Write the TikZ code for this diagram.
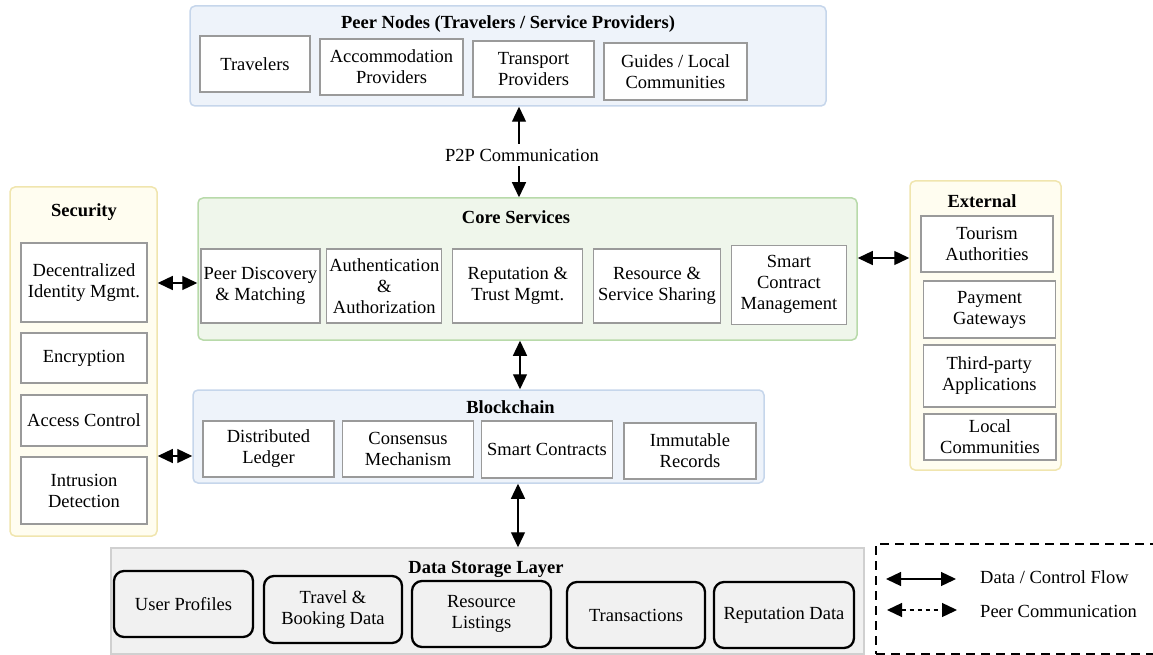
\documentclass[tikz,border=0pt]{standalone}
\usepackage{fontspec}
\setmainfont{Liberation Serif}
\usetikzlibrary{arrows.meta}
\definecolor{bluefill}{HTML}{EEF3FA}
\definecolor{bluebd}{HTML}{C6D6EB}
\definecolor{greenfill}{HTML}{EFF6EB}
\definecolor{greenbd}{HTML}{B8DAAA}
\definecolor{yelfill}{HTML}{FFFDF0}
\definecolor{yelbd}{HTML}{F0E5AE}
\definecolor{grayfill}{HTML}{F1F1F1}
\definecolor{graybd}{HTML}{D0D0D0}
\definecolor{boxgray}{HTML}{9A9A9A}
\newcommand\mybox[6]{\node[#1, minimum width=#4pt, minimum height=#5pt] (#2) at (#3) {#6};}
\begin{document}
\begin{tikzpicture}[x=1pt,y=-1pt,
  font=\rmfamily\fontsize{18.5}{21}\selectfont,
  cont/.style={draw, rounded corners=5pt, line width=1.5pt, inner sep=0pt},
  ibox/.style={draw=boxgray, fill=white, line width=1.3pt, align=center, inner sep=0pt},
  sbox/.style={draw=black, fill=grayfill, line width=2.3pt, rounded corners=10pt, align=center, inner sep=0pt},
  ttl/.style={font=\rmfamily\fontsize{18.5}{21}\selectfont\bfseries, inner sep=0pt},
  biarrow/.style={{Triangle[length=15pt,width=14pt]}-{Triangle[length=15pt,width=14pt]}, line width=1.3pt},
  onearrow/.style={-{Triangle[length=15pt,width=14pt]}, line width=1.3pt},
]
\useasboundingbox (0,0) rectangle (1153,655);
\clip (0,0) rectangle (1153,655);

% ---------- Peer nodes ----------
\node[cont, draw=bluebd, fill=bluefill, minimum width=636pt, minimum height=100pt] (peer) at (508,56) {};
\node[ttl] (peertitle) at (508,24) {Peer Nodes (Travelers / Service Providers)};
\mybox{ibox}{trav}{255,64}{110}{56}{Travelers}
\mybox{ibox}{acc}{391.5,67}{143}{56}{Accommodation\\Providers}
\mybox{ibox}{trans}{533.5,69}{121}{56}{Transport\\Providers}
\mybox{ibox}{guides}{675.5,71.5}{143}{57}{Guides / Local\\Communities}

% ---------- Core services ----------
\node[cont, draw=greenbd, fill=greenfill, minimum width=659pt, minimum height=142pt] (core) at (527.5,269) {};
\node[ttl] (coretitle) at (516,217) {Core Services};
\mybox{ibox}{pd}{260.4,286}{119}{74}{Peer Discovery\\\& Matching}
\mybox{ibox}{auth}{384.3,286}{115}{74}{Authentication\\\&\\Authorization}
\mybox{ibox}{rep}{517.8,286}{130}{74}{Reputation \&\\Trust Mgmt.}
\mybox{ibox}{res}{657,286}{127}{74}{Resource \&\\Service Sharing}
\mybox{ibox}{scm}{789,284.7}{115}{79}{Smart\\Contract\\Management}

% ---------- Security ----------
\node[cont, draw=yelbd, fill=yelfill, minimum width=147pt, minimum height=349pt] (sec) at (83.5,361.5) {};
\node[ttl] (sectitle) at (84,212) {Security};
\mybox{ibox}{dec}{84,282.5}{126}{79}{Decentralized\\Identity Mgmt.}
\mybox{ibox}{enc}{84,358}{126}{50}{Encryption}
\mybox{ibox}{acl}{84,420.5}{126}{51}{Access Control}
\mybox{ibox}{ids}{84,490.5}{126}{67}{Intrusion\\Detection}

% ---------- External ----------
\node[cont, draw=yelbd, fill=yelfill, minimum width=151pt, minimum height=289pt] (ext) at (985.5,325.5) {};
\node[ttl] (exttitle) at (982,201) {External};
\mybox{ibox}{tour}{987,244}{132}{56}{Tourism\\Authorities}
\mybox{ibox}{pay}{989.5,309.5}{132}{57}{Payment\\Gateways}
\mybox{ibox}{third}{989.3,376}{132}{62}{Third-party\\Applications}
\mybox{ibox}{local}{990,437}{132}{46}{Local\\Communities}

% ---------- Blockchain ----------
\node[cont, draw=bluebd, fill=bluefill, minimum width=571pt, minimum height=93pt] (bc) at (478.5,436.5) {};
\node[ttl] (bctitle) at (510.5,407) {Blockchain};
\mybox{ibox}{dl}{268.5,449}{131}{56}{Distributed\\Ledger}
\mybox{ibox}{cons}{408,449}{131}{56}{Consensus\\Mechanism}
\mybox{ibox}{sc}{547,449.5}{131}{57}{Smart Contracts}
\mybox{ibox}{imm}{690,451}{132}{56}{Immutable\\Records}

% ---------- Data storage ----------
\node[draw=graybd, fill=grayfill, line width=1.5pt, inner sep=0pt, minimum width=753pt, minimum height=106pt] (store) at (487.5,601) {};
\node[ttl] (storetitle) at (486,569) {Data Storage Layer};
\mybox{sbox}{up}{183.5,604}{139}{66}{User Profiles}
\mybox{sbox}{tb}{333,609.5}{138}{67}{Travel \&\\Booking Data}
\mybox{sbox}{rl}{481.5,614}{139}{66}{Resource\\Listings}
\mybox{sbox}{tx}{636,615}{138}{66}{Transactions}
\mybox{sbox}{rd}{784,615}{140}{66}{Reputation Data}

% ---------- Connectors ----------
\node[fill=white, inner sep=5pt] (p2p) at (522,155) {P2P Communication};
\coordinate (p2px) at (519,155);
\draw[onearrow] (p2px |- p2p.north) -- (p2px |- peer.south);
\draw[onearrow] (p2px |- p2p.south) -- (p2px |- core.north);

\coordinate (cbx) at (520,0);
\draw[biarrow] (cbx |- core.south) -- (cbx |- bc.north);
\coordinate (bsx) at (518,0);
\draw[biarrow] (bsx |- bc.south) -- (bsx |- store.north);
\coordinate (scy) at (0,283);
\draw[biarrow] (scy -| sec.east) -- (scy -| core.west);
\coordinate (sby) at (0,456);
\draw[biarrow] (sby -| sec.east) -- (sby -| bc.west);
\coordinate (cey) at (0,258);
\draw[biarrow] (cey -| core.east) -- (cey -| ext.west);

% ---------- Legend ----------
\node[draw=black, line width=2.5pt, dash pattern=on 9pt off 6pt, inner sep=0pt, minimum width=289pt, minimum height=110pt] (legend) at (1020.5,599) {};
\coordinate (l1a) at (886,579);
\coordinate (l1b) at (956,579);
\coordinate (l2a) at (887,610);
\coordinate (l2b) at (957,610);
\draw[biarrow] (l1a) -- (l1b);
\draw[biarrow, dash pattern=on 4pt off 4pt] (l2a) -- (l2b);
\node[anchor=west, inner sep=0pt] (l1t) at (980,577) {Data / Control Flow};
\node[anchor=west, inner sep=0pt] (l2t) at (980,611) {Peer Communication};
\end{tikzpicture}
\end{document}
